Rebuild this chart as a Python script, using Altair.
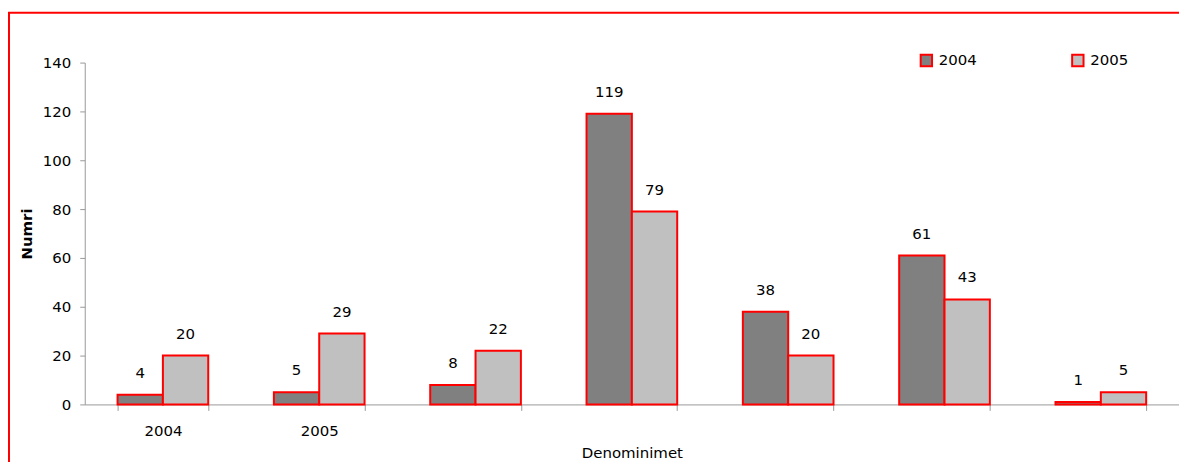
import altair as alt
import pandas as pd

categories = ["2004", "2005", " ", "  ", "   ", "    ", "     "]
series = ["2004", "2005"]
values_2004 = [4, 5, 8, 119, 38, 61, 1]
values_2005 = [20, 29, 22, 79, 20, 43, 5]
colors = ["#808080", "#C0C0C0"]

rows = []
for c, a, b in zip(categories, values_2004, values_2005):
    rows.append({"cat": c, "series": "2004", "value": a})
    rows.append({"cat": c, "series": "2005", "value": b})
df = pd.DataFrame(rows)

FONT = "DejaVu Sans"
W, H = 1098, 343

xscale = alt.Scale(domain=categories, paddingInner=0.42, paddingOuter=0.21)
x = alt.X("cat:N", scale=xscale, sort=categories,
          title="Denominimet",
          axis=alt.Axis(labelAngle=0, tickBand="extent", domainColor="#999999",
                        tickColor="#999999", tickSize=6, labelPadding=13,
                        titlePadding=7, labelFontSize=15, titleFontSize=15,
                        titleFontWeight="normal", labelColor="#000000", titleColor="#000000"))
xo = alt.XOffset("series:N", scale=alt.Scale(domain=series, paddingInner=0, paddingOuter=0))

bars = alt.Chart(df).mark_bar(stroke="#FF0000", strokeWidth=2).encode(
    x=x,
    xOffset=xo,
    y=alt.Y("value:Q", scale=alt.Scale(domain=[0, 140]),
            title="Numri",
            axis=alt.Axis(values=list(range(0, 141, 20)), grid=False,
                          domainColor="#999999", tickColor="#999999", tickSize=5,
                          labelPadding=9, labelFontSize=15, titleFontSize=15,
                          titleFontWeight="bold", titlePadding=8,
                          labelColor="#000000", titleColor="#000000")),
    fill=alt.Fill("series:N", scale=alt.Scale(domain=series, range=colors),
                  legend=alt.Legend(title=None, orient="none", legendX=837, legendY=-10,
                                    direction="horizontal", columns=2, columnPadding=90,
                                    symbolType="square", symbolSize=130,
                                    symbolStrokeColor="#FF0000", symbolStrokeWidth=2,
                                    labelFontSize=15, labelOffset=5, labelColor="#000000")),
)

labels = alt.Chart(df).mark_text(dy=-14, fontSize=15, font=FONT, color="#000000",
                                 baseline="bottom").encode(
    x=alt.X("cat:N", scale=xscale, sort=categories),
    xOffset=xo,
    y=alt.Y("value:Q"),
    text=alt.Text("value:Q"),
)

border_left = alt.Chart(pd.DataFrame({"a": [0]})).mark_rule(color="#FF0000", strokeWidth=2).encode(
    x=alt.value(-76), y=alt.value(-50), y2=alt.value(H + 100))
border_top = alt.Chart(pd.DataFrame({"a": [0]})).mark_rule(color="#FF0000", strokeWidth=2).encode(
    x=alt.value(-77), x2=alt.value(W + 20), y=alt.value(-50))

chart = alt.layer(bars, labels, border_left, border_top).properties(
    width=W, height=H,
    padding={"left": 77, "top": 54, "right": 0, "bottom": 57},
    autosize=alt.AutoSizeParams(type="none"),
).configure(font=FONT).configure_view(stroke=None)

chart.save("out.html", embed_options={"renderer": "svg", "actions": False})
